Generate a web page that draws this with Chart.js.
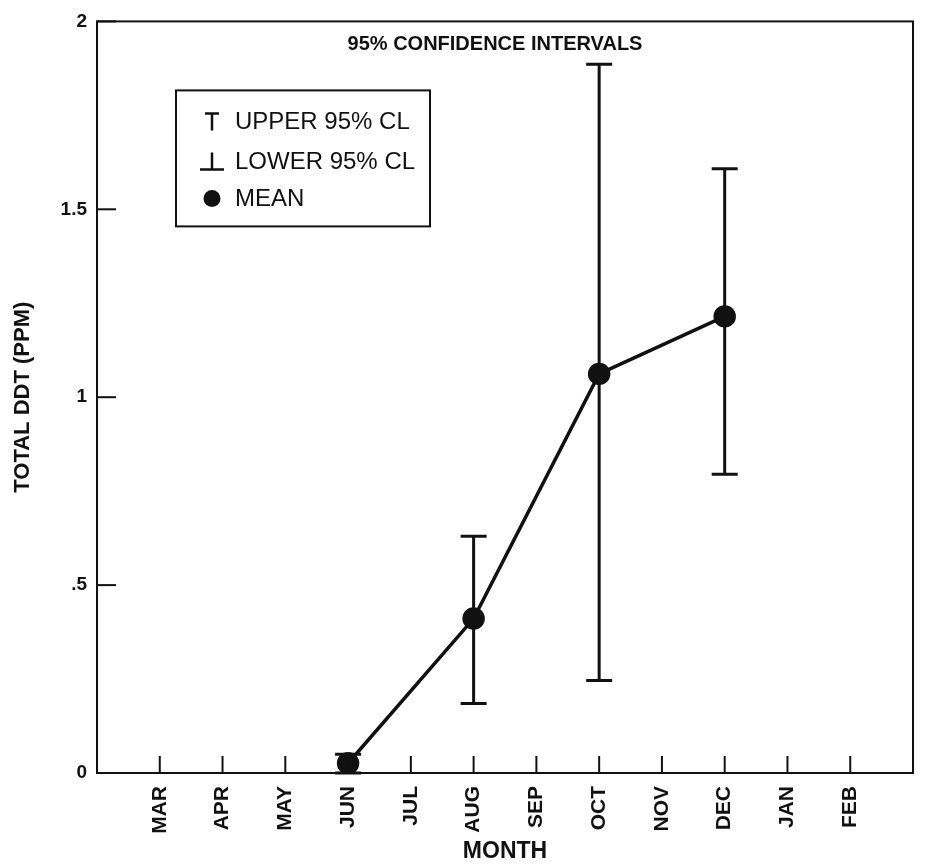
<!DOCTYPE html>
<html>
<head>
<meta charset="utf-8">
<script src="https://cdn.jsdelivr.net/npm/chart.js@4.4.0/dist/chart.umd.min.js"></script>
<style>
  html, body { margin: 0; padding: 0; background: #fff; }
</style>
</head>
<body>
<canvas id="chartDDT" width="926" height="867"></canvas>
<script>
// ========== Dados ==========
const months = ["MAR", "APR", "MAY", "JUN", "JUL", "AUG", "SEP", "OCT", "NOV", "DEC", "JAN", "FEB"];
const sampleMonths = ["JUN", "AUG", "OCT", "DEC"];
const meanDDT = [0.026, 0.411, 1.062, 1.215];
const upperCL = [0.05, 0.63, 1.886, 1.608];
const lowerCL = [0.0, 0.185, 0.246, 0.795];
const yTicks = [0, 0.5, 1, 1.5, 2];
const yTickLabels = ["0", ".5", "1", "1.5", "2"];

const FONT = "'Liberation Sans', Arial, Helvetica, sans-serif";
const INK = "#111";

const monthPos = (m) => months.indexOf(m) + 1;

// barras de erro + moldura + ticks internos + legenda
const paperPlugin = {
  id: "paper",
  beforeDatasetsDraw(chart) {
    const { ctx, scales: { x, y } } = chart;
    ctx.save();
    ctx.strokeStyle = INK;
    ctx.lineWidth = 3;
    sampleMonths.forEach((m, i) => {
      const px = x.getPixelForValue(monthPos(m));
      const top = y.getPixelForValue(upperCL[i]);
      const bot = y.getPixelForValue(lowerCL[i]);
      ctx.beginPath();
      ctx.moveTo(px, top);
      ctx.lineTo(px, bot);
      ctx.moveTo(px - 13, top);
      ctx.lineTo(px + 13, top);
      ctx.moveTo(px - 13, bot);
      ctx.lineTo(px + 13, bot);
      ctx.stroke();
    });
    ctx.restore();
  },
  afterDraw(chart) {
    const { ctx, chartArea: a, scales: { x, y } } = chart;
    ctx.save();
    ctx.strokeStyle = INK;
    ctx.lineWidth = 2;
    ctx.strokeRect(a.left, a.top, a.right - a.left, a.bottom - a.top);

    // ticks para dentro
    x.ticks.forEach((t) => {
      const px = x.getPixelForValue(t.value);
      ctx.beginPath();
      ctx.moveTo(px, a.bottom);
      ctx.lineTo(px, a.bottom - 17);
      ctx.stroke();
    });
    y.ticks.forEach((t) => {
      const py = y.getPixelForValue(t.value);
      ctx.beginPath();
      ctx.moveTo(a.left, py);
      ctx.lineTo(a.left + 19, py);
      ctx.stroke();
    });

    // titulo interno
    ctx.fillStyle = INK;
    ctx.font = "bold 20px " + FONT;
    ctx.textAlign = "center";
    ctx.textBaseline = "middle";
    ctx.fillText("95% CONFIDENCE INTERVALS", (a.left + a.right) / 2 - 10, a.top + 23);

    // legenda
    const bx = a.left + 79, by = a.top + 69, bw = 254, bh = 136;
    ctx.lineWidth = 2;
    ctx.strokeRect(bx, by, bw, bh);
    ctx.font = "24px " + FONT;
    ctx.textAlign = "left";
    const gx = bx + 36, tx = bx + 59;
    const rows = [by + 31, by + 71, by + 108];
    ctx.lineWidth = 2.5;
    // T
    ctx.beginPath();
    ctx.moveTo(gx - 7, rows[0] - 8);
    ctx.lineTo(gx + 7, rows[0] - 8);
    ctx.moveTo(gx, rows[0] - 8);
    ctx.lineTo(gx, rows[0] + 9);
    ctx.stroke();
    ctx.fillText("UPPER 95% CL", tx, rows[0] + 1);
    // ⊥
    ctx.beginPath();
    ctx.moveTo(gx, rows[1] - 9);
    ctx.lineTo(gx, rows[1] + 8);
    ctx.moveTo(gx - 12, rows[1] + 8);
    ctx.lineTo(gx + 12, rows[1] + 8);
    ctx.stroke();
    ctx.fillText("LOWER 95% CL", tx, rows[1] + 1);
    // ●
    ctx.beginPath();
    ctx.arc(gx, rows[2], 8.5, 0, Math.PI * 2);
    ctx.fill();
    ctx.fillText("MEAN", tx, rows[2] + 1);
    ctx.restore();
  },
};

// ========== Gráfico ==========
new Chart(document.getElementById("chartDDT"), {
  type: "line",
  data: {
    datasets: [
      {
        label: "MEAN",
        data: sampleMonths.map((m, i) => ({ x: monthPos(m), y: meanDDT[i] })),
        borderColor: INK,
        backgroundColor: INK,
        borderWidth: 3.5,
        pointRadius: 9.5,
        pointHoverRadius: 9.5,
        tension: 0,
      },
    ],
  },
  options: {
    responsive: false,
    animation: false,
    layout: { padding: { top: 17, right: 5, left: 0, bottom: 0 } },
    plugins: { legend: { display: false }, tooltip: { enabled: false } },
    scales: {
      x: {
        type: "linear",
        min: 0,
        max: 13,
        afterBuildTicks: (s) => {
          s.ticks = months.map((m, i) => ({ value: i + 1 }));
        },
        afterFit: (s) => {
          s.height = 94;
        },
        grid: { display: false, drawTicks: false },
        border: { display: false },
        ticks: {
          autoSkip: false,
          minRotation: 90,
          maxRotation: 90,
          padding: 13,
          color: INK,
          font: { family: FONT, size: 21, weight: "bold" },
          callback: (v) => months[v - 1] || "",
        },
        title: {
          display: true,
          text: "MONTH",
          color: INK,
          font: { family: FONT, size: 23, weight: "bold" },
          padding: { top: 0, bottom: 2 },
        },
      },
      y: {
        min: 0,
        max: 2,
        afterBuildTicks: (s) => {
          s.ticks = yTicks.map((v) => ({ value: v }));
        },
        afterFit: (s) => {
          s.width = 97;
        },
        grid: { display: false, drawTicks: false },
        border: { display: false },
        ticks: {
          padding: 10,
          color: INK,
          font: { family: FONT, size: 19, weight: "bold" },
          callback: (v) => yTickLabels[yTicks.indexOf(v)],
        },
        title: {
          display: true,
          text: "TOTAL DDT (PPM)",
          color: INK,
          font: { family: FONT, size: 22, weight: "bold" },
          padding: { top: 10, bottom: 0 },
        },
      },
    },
  },
  plugins: [paperPlugin],
});
</script>
</body>
</html>
